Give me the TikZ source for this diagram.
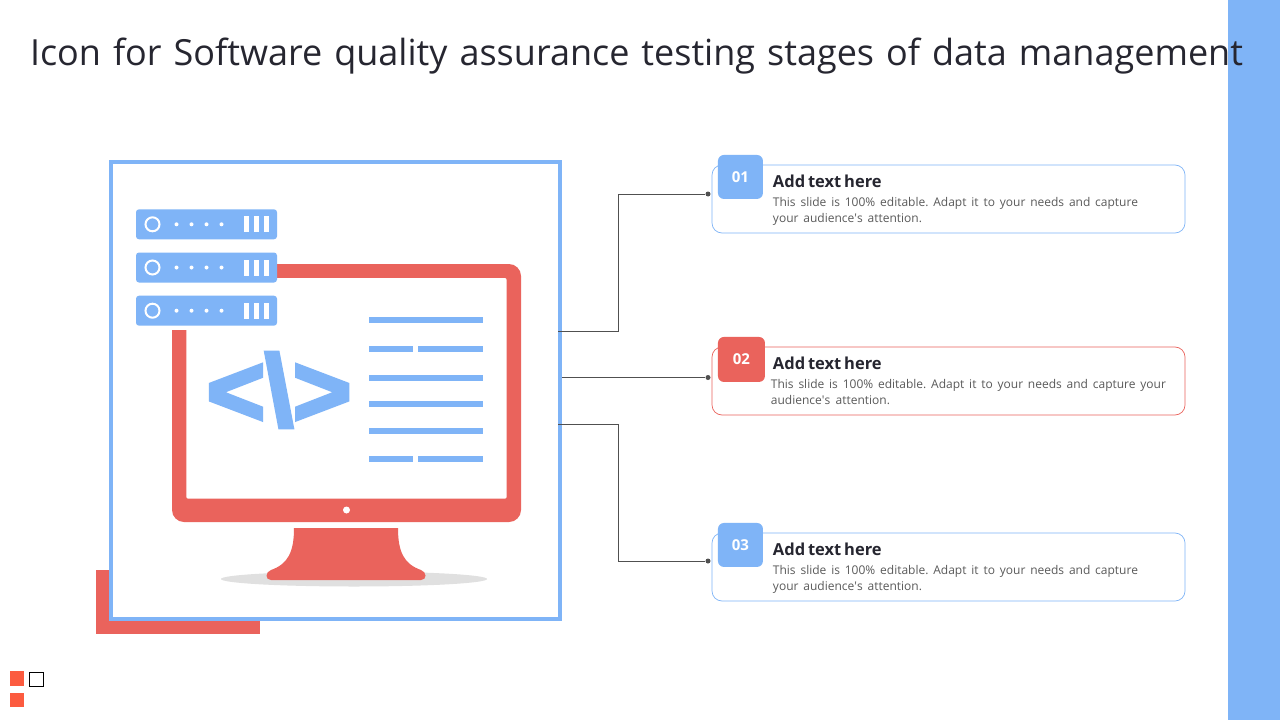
\documentclass[tikz,border=0pt]{standalone}
\usepackage{xcolor}
\usepackage{fontspec}
\setmainfont{Open Sans}
\newfontfamily\codefont{Liberation Sans Bold}[FakeBold=4]
\usepackage{tikz}
\usetikzlibrary{positioning}

\definecolor{skyblue}{HTML}{7FB4F7}
\definecolor{coral}{HTML}{EA635C}
\definecolor{tomato}{HTML}{FC5B3F}
\definecolor{inkdark}{HTML}{262630}
\definecolor{inkgray}{HTML}{5A5A5A}
\definecolor{wire}{HTML}{505050}

\newcommand{\fitline}[2]{\makebox[#1pt][s]{#2}}

\begin{document}
\begin{tikzpicture}[x=1pt,y=-1pt,semithick]
	\tikzstyle{card}=[draw, rounded corners=10pt, minimum width=473pt, minimum height=68pt, inner sep=0pt, line width=.7pt]
	\tikzstyle{badge}=[rounded corners=6pt, inner sep=0pt, text=white, font=\fontsize{15}{18}\selectfont\bfseries]
	\tikzstyle{headtext}=[inner sep=0pt, text=inkdark, font=\fontsize{16.5}{20}\selectfont\bfseries]
	\tikzstyle{bodytext}=[inner sep=0pt, align=left, text=inkgray, font=\fontsize{12}{16}\selectfont\frenchspacing]
	\tikzstyle{dotend}=[circle, fill=wire, inner sep=0pt, minimum size=5pt]
	\tikzstyle{link}=[draw=wire, line width=.8pt]
	\tikzstyle{rule}=[fill=skyblue]
	\tikzset{
		pics/serverrack/.style={code={
			\fill[skyblue, rounded corners=3pt] (0,0) rectangle (141,30);
			\draw[white, line width=2pt] (16.5,15) circle [radius=7pt];
			\fill[white] (40.5,15) circle [radius=2pt];
			\fill[white] (55.5,15) circle [radius=2pt];
			\fill[white] (70.5,15) circle [radius=2pt];
			\fill[white] (85.5,15) circle [radius=2pt];
			\fill[white] (108,7) rectangle (113,23);
			\fill[white] (118,7) rectangle (123,23);
			\fill[white] (128,7) rectangle (133,23);
		}}
	}

	\useasboundingbox (0,0) rectangle (1280,720);
	\fill[white] (0,0) rectangle (1280,720);
	\fill[skyblue] (1228,0) rectangle (1280,720);

	\node[inner sep=0pt, text=inkdark, font=\fontsize{36}{44}\selectfont] (title) at (636.5,56)
		{\fitline{1213}{Icon for Software quality assurance testing stages of data management}};

	% corner and frame
	\fill[coral] (96,570) rectangle (260,634);
	\node[draw=skyblue, fill=white, line width=4pt, inner sep=0pt, minimum width=449pt, minimum height=457pt] (frame) at (335.5,390.5) {};

	% monitor
	\fill[coral, rounded corners=12pt] (172,264) rectangle (521,522);
	\fill[white, rounded corners=2pt] (186.3,278) rectangle (506.7,498.7);
	\fill[white] (165,240) rectangle (277,330);
	\fill[white] (346.5,510) circle [radius=3.5pt];
	\fill[black!12] (354,579) ellipse [x radius=133pt, y radius=7.5pt];
	\fill[coral] (294,528) -- (398,528) .. controls (398,552) and (404,564) .. (421,570)
		.. controls (427,572) and (427,580) .. (421,580) -- (271,580)
		.. controls (265,580) and (265,572) .. (271,570)
		.. controls (288,564) and (294,552) .. (294,528) -- cycle;

	% servers
	\pic at (136,209.3) {serverrack};
	\pic at (136,252.5) {serverrack};
	\pic at (136,295.7) {serverrack};

	% code mark and text lines
	\node[inner sep=0pt, text=skyblue, font=\fontsize{100}{110}\selectfont\codefont] (code) at (279,390) {<\textbackslash>};
	\fill[rule] (369,317) rectangle (483,323);
	\fill[rule] (369,346) rectangle (413,352);
	\fill[rule] (418,346) rectangle (483,352);
	\fill[rule] (369,374.500) rectangle (483,380.500);
	\fill[rule] (369,401) rectangle (483,407);
	\fill[rule] (369,428) rectangle (483,434);
	\fill[rule] (369,456) rectangle (413,462);
	\fill[rule] (418,456) rectangle (483,462);

	% cards
	\node[card, draw=skyblue] (card1) at (948.5,199) {};
	\node[card, draw=coral] (card2) [below=113.3pt of card1] {};
	\node[card, draw=skyblue] (card3) [below=117.3pt of card2] {};

	\node[badge, fill=skyblue, minimum width=45pt, minimum height=44pt] (badge1) [below right=-10pt and -.5pt of card1.north west, xshift=6.500pt] {01};
	\node[badge, fill=coral, minimum width=47pt, minimum height=45pt] (badge2) [below right=-10pt and -.5pt of card2.north west, xshift=6.500pt] {02};
	\node[badge, fill=skyblue, minimum width=45pt, minimum height=44pt] (badge3) [below right=-10pt and -.5pt of card3.north west, xshift=6.500pt] {03};

	\node[headtext] (head1) [below right=10pt and 61pt of card1.north west] {\fitline{106}{Add text here}};
	\node[headtext] (head2) [below right=10pt and 61pt of card2.north west] {\fitline{106}{Add text here}};
	\node[headtext] (head3) [below right=10pt and 61pt of card3.north west] {\fitline{106}{Add text here}};

	\node[bodytext] (body1) [below right=32.500pt and 61pt of card1.north west] {\fitline{365}{This slide is 100\% editable. Adapt it to your needs and capture}\\\fitline{149}{your audience\textquotesingle s attention.}};
	\node[bodytext] (body2) [below right=32.500pt and 59pt of card2.north west] {\fitline{395}{This slide is 100\% editable. Adapt it to your needs and capture your}\\\fitline{119}{audience\textquotesingle s attention.}};
	\node[bodytext] (body3) [below right=32.500pt and 61pt of card3.north west] {\fitline{365}{This slide is 100\% editable. Adapt it to your needs and capture}\\\fitline{149}{your audience\textquotesingle s attention.}};

	% connectors
	\coordinate (tap1) at (558,331);
	\coordinate (tap2) at (562,377.500);
	\coordinate (tap3) at (558,424.500);
	\coordinate (turn1) at (618.500,194);
	\coordinate (turn3) at (618.500,561);
	\node[dotend] (dot1) at (708,194) {};
	\node[dotend] (dot2) at (708,377.500) {};
	\node[dotend] (dot3) at (708,561) {};

	\draw[link] (tap1) -| (turn1) -- (dot1);
	\draw[link] (tap2) -- (dot2);
	\draw[link] (tap3) -| (turn3) -- (dot3);

	% slide mark
	\fill[tomato] (10,671) rectangle (24,686);
	\draw[black, line width=1pt] (29,672.500) rectangle (43,686.500);
	\fill[tomato] (10,693) rectangle (24,707);
\end{tikzpicture}
\end{document}
